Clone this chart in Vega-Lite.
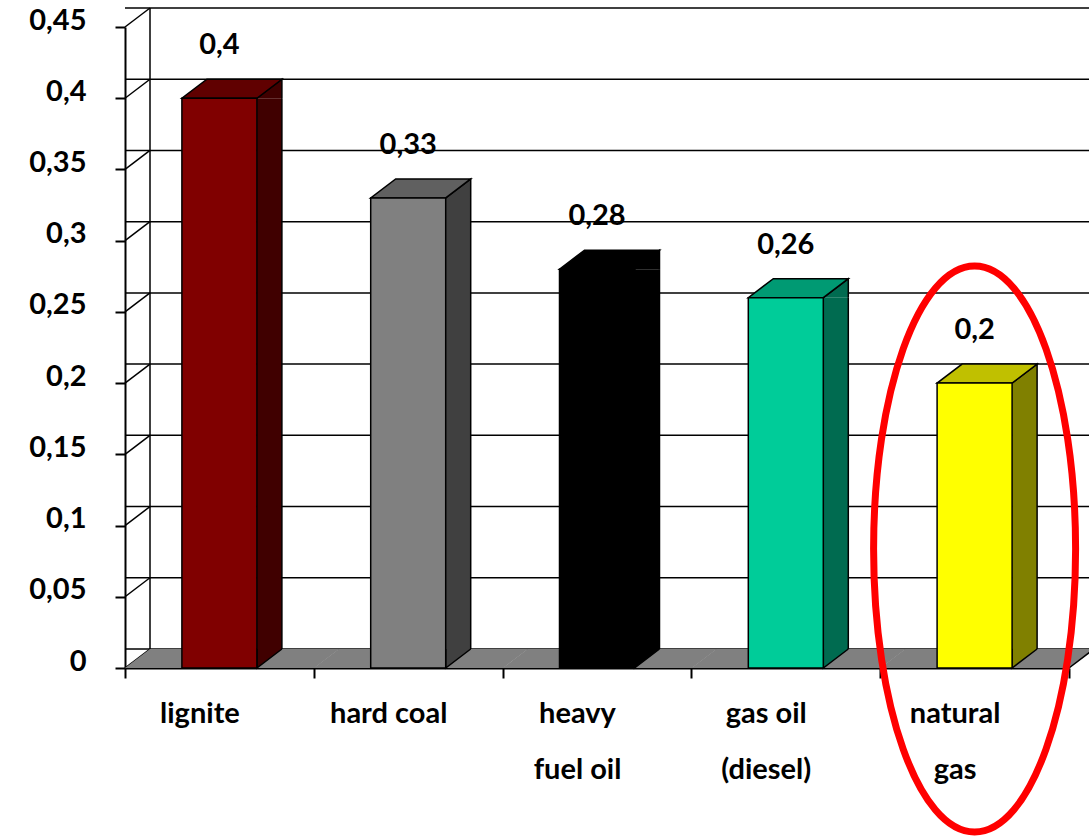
{
  "$schema": "https://vega.github.io/schema/vega-lite/v6.json",
  "width": 944,
  "height": 641,
  "autosize": {"type": "none"},
  "padding": {"left": 125, "top": 27, "right": 20, "bottom": 170},
  "background": "white",
  "config": {
    "view": {"stroke": null},
    "locale": {"number": {"decimal": ",", "thousands": ".", "grouping": [3], "currency": ["", " €"]}},
    "font": "Lato",
    "axis": {
      "title": null,
      "grid": false,
      "domainColor": "black",
      "domainWidth": 2,
      "tickColor": "black",
      "tickWidth": 2,
      "tickSize": 10,
      "labelFont": "Lato",
      "labelFontWeight": "bold",
      "labelFontSize": 29,
      "labelColor": "black",
      "zindex": 1
    }
  },
  "datasets": {
    "fuels": [
      {"fuel": "lignite", "value": 0.4},
      {"fuel": "hard coal", "value": 0.33},
      {"fuel": "heavy\nfuel oil", "value": 0.28},
      {"fuel": "gas oil\n(diesel)", "value": 0.26},
      {"fuel": "natural\ngas", "value": 0.2}
    ],
    "ticks": [
      {"tick": 0}, {"tick": 0.05}, {"tick": 0.1}, {"tick": 0.15}, {"tick": 0.2},
      {"tick": 0.25}, {"tick": 0.3}, {"tick": 0.35}, {"tick": 0.4}, {"tick": 0.45}
    ]
  },
  "data": {"name": "fuels"},
  "encoding": {
    "x": {
      "field": "fuel",
      "type": "nominal",
      "sort": null,
      "scale": {
        "domain": ["lignite", "hard coal", "heavy\nfuel oil", "gas oil\n(diesel)", "natural\ngas"],
        "paddingInner": 0,
        "paddingOuter": 0
      },
      "axis": {
        "tickBand": "extent",
        "labelAngle": 0,
        "labelPadding": 21,
        "labelOffset": -20,
        "labelBaseline": "top",
        "labelLineHeight": 56,
        "labelExpr": "isString(datum.value) ? split(datum.value, '\\n') : ''"
      }
    }
  },
  "layer": [
    {
      "data": {"name": "ticks"},
      "mark": {"type": "rule", "color": "black", "strokeWidth": 1.5, "xOffset": 25, "x2Offset": 25, "yOffset": -19},
      "encoding": {
        "x": null,
        "y": {
          "field": "tick",
          "type": "quantitative",
          "scale": {"domain": [0, 0.45], "nice": false},
          "axis": {
            "values": [0, 0.05, 0.1, 0.15, 0.2, 0.25, 0.3, 0.35, 0.4, 0.45],
            "format": "~g",
            "labelPadding": 29,
            "labelOffset": -7
          }
        }
      }
    },
    {
      "data": {"name": "ticks"},
      "mark": {"type": "point", "shape": "M0,0 L25,-19", "size": 4, "filled": false, "stroke": "black", "strokeWidth": 1.5, "opacity": 1},
      "encoding": {
        "x": {"datum": "lignite", "type": "nominal", "bandPosition": 0},
        "y": {"field": "tick", "type": "quantitative"}
      }
    },
    {
      "data": {"values": [{}]},
      "mark": {"type": "rule", "color": "black", "strokeWidth": 1.5, "xOffset": 25, "yOffset": -19, "y2Offset": -19},
      "encoding": {
        "x": {"datum": "lignite", "type": "nominal", "bandPosition": 0},
        "y": {"datum": 0.45, "type": "quantitative"},
        "y2": {"datum": 0}
      }
    },
    {
      "mark": {"type": "point", "shape": "M-94.4,0 L94.9,0 L119.9,-19 L-69.4,-19 Z", "size": 4, "filled": true, "fill": "#808080", "strokeWidth": 0, "opacity": 1},
      "encoding": {"y": {"datum": 0, "type": "quantitative"}}
    },
    {
      "transform": [{"filter": "datum.fuel == 'natural\\ngas'"}],
      "mark": {"type": "point", "shape": "M94.4,0 L119.4,-19", "size": 4, "filled": false, "stroke": "black", "strokeWidth": 1.5, "opacity": 1},
      "encoding": {"y": {"datum": 0, "type": "quantitative"}}
    },
    {
      "mark": {"type": "bar", "width": 25, "xOffset": 50, "y2Offset": -19, "strokeWidth": 0},
      "encoding": {
        "y": {"field": "value", "type": "quantitative"},
        "y2": {"datum": 0},
        "fill": {
          "field": "fuel", "type": "nominal", "legend": null,
          "scale": {"domain": ["lignite", "hard coal", "heavy\nfuel oil", "gas oil\n(diesel)", "natural\ngas"], "range": ["#400000", "#404040", "#000000", "#006B50", "#808000"]}
        }
      }
    },
    {
      "mark": {"type": "point", "shape": "M37.5,0 L62.5,-19 L62.5,0", "size": 4, "filled": true, "stroke": "black", "strokeWidth": 1.5, "opacity": 1},
      "encoding": {
        "y": {"field": "value", "type": "quantitative"},
        "fill": {
          "field": "fuel", "type": "nominal", "legend": null,
          "scale": {"domain": ["lignite", "hard coal", "heavy\nfuel oil", "gas oil\n(diesel)", "natural\ngas"], "range": ["#400000", "#404040", "#000000", "#006B50", "#808000"]}
        }
      }
    },
    {
      "mark": {"type": "point", "shape": "M37.5,-19 L37.5,0 L62.5,-19", "size": 4, "filled": true, "stroke": "black", "strokeWidth": 1.5, "opacity": 1},
      "encoding": {
        "y": {"datum": 0, "type": "quantitative"},
        "fill": {
          "field": "fuel", "type": "nominal", "legend": null,
          "scale": {"domain": ["lignite", "hard coal", "heavy\nfuel oil", "gas oil\n(diesel)", "natural\ngas"], "range": ["#400000", "#404040", "#000000", "#006B50", "#808000"]}
        }
      }
    },
    {
      "mark": {"type": "rule", "color": "black", "strokeWidth": 1.5, "xOffset": 62.5, "y2Offset": -19},
      "encoding": {
        "y": {"field": "value", "type": "quantitative"},
        "y2": {"datum": 0}
      }
    },
    {
      "mark": {"type": "point", "shape": "M-37.5,0 L37.5,0 L62.5,-19 L-12.5,-19 Z", "size": 4, "filled": true, "stroke": "black", "strokeWidth": 1.5, "opacity": 1},
      "encoding": {
        "y": {"field": "value", "type": "quantitative"},
        "fill": {
          "field": "fuel", "type": "nominal", "legend": null,
          "scale": {"domain": ["lignite", "hard coal", "heavy\nfuel oil", "gas oil\n(diesel)", "natural\ngas"], "range": ["#600000", "#606060", "#000000", "#009A73", "#C0C000"]}
        }
      }
    },
    {
      "mark": {"type": "bar", "width": 75, "stroke": "black", "strokeWidth": 1.5},
      "encoding": {
        "y": {"field": "value", "type": "quantitative"},
        "y2": {"datum": 0},
        "fill": {
          "field": "fuel", "type": "nominal", "legend": null,
          "scale": {"domain": ["lignite", "hard coal", "heavy\nfuel oil", "gas oil\n(diesel)", "natural\ngas"], "range": ["#800000", "#808080", "#000000", "#00CC99", "#FFFF00"]}
        }
      }
    },
    {
      "mark": {"type": "text", "font": "Lato", "fontWeight": "bold", "fontSize": 29, "color": "black", "baseline": "alphabetic", "align": "center", "yOffset": -44},
      "encoding": {
        "y": {"field": "value", "type": "quantitative"},
        "text": {"field": "value", "type": "quantitative", "format": "~g"}
      }
    },
    {
      "transform": [{"filter": "datum.fuel == 'natural\\ngas'"}],
      "mark": {"type": "point", "shape": "M-101,-119 A101,283 0 1 1 101,-119 A101,283 0 1 1 -101,-119 Z", "size": 4, "filled": false, "stroke": "#FF0000", "strokeWidth": 7, "opacity": 1},
      "encoding": {"y": {"datum": 0, "type": "quantitative"}}
    }
  ],
  "resolve": {"scale": {"fill": "independent"}}
}
